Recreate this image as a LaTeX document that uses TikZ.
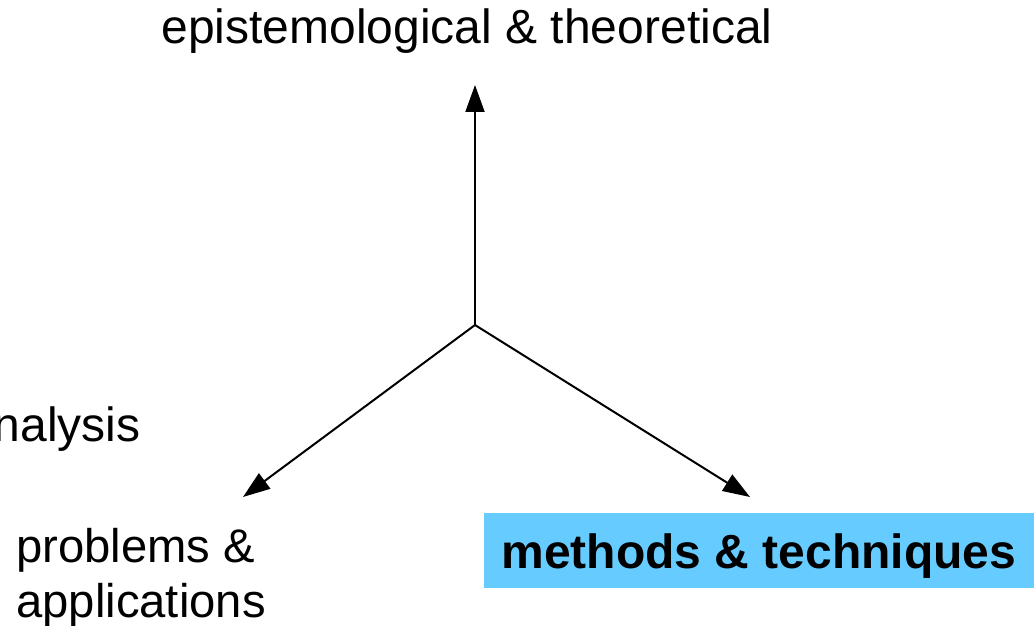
\documentclass[tikz,border=0pt]{standalone}
\usepackage{fontspec}
\setmainfont{Liberation Sans}
\usepackage{tikz}
\usetikzlibrary{arrows.meta}
\definecolor{boxblue}{HTML}{66CCFF}
\tikzset{axisarrow/.style={-{Triangle[length=13.5pt,width=9.5pt]},line width=1pt}}

\begin{document}
\begin{tikzpicture}[x=0.5pt,y=-0.5pt,font=\fontsize{24}{27.5}\selectfont]
\useasboundingbox (0,0) rectangle (1034,626);
\fill [boxblue](484,513) rectangle (1034,588);
\coordinate (hub) at (475,325);
\coordinate (up) at (475,85);
\coordinate (left) at (243,497);
\coordinate (right) at (750,497);
\draw [axisarrow](hub)--(up);
\draw [axisarrow](hub)--(left);
\draw [axisarrow](hub)--(right);
\node (theo) [anchor=base,inner sep=0pt] at (467,44){epistemological \& theoretical};
\node (ana) [anchor=base east,inner sep=0pt] at (141,441){analysis};
\node (prob) [anchor=north west,inner sep=0pt,align=left,font=\fontsize{23.6}{27.5}\selectfont] at (16,528){problems \&\\applications};
\node (meth) [anchor=base,inner sep=0pt,font=\fontsize{24}{27.5}\selectfont\bfseries] at (759,568){methods \& techniques};
\end{tikzpicture}
\end{document}
